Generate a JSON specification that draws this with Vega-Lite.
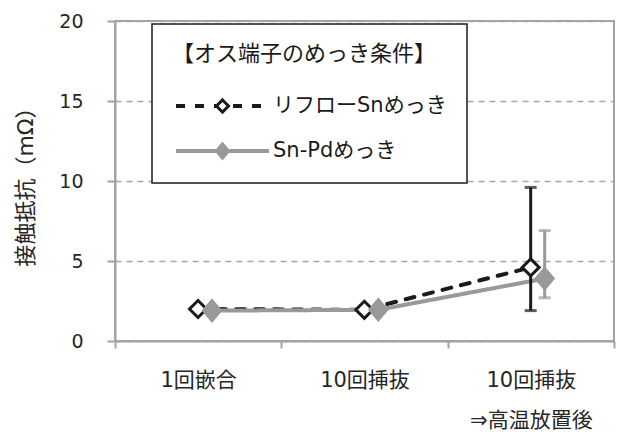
{
  "$schema": "https://vega.github.io/schema/vega-lite/v6.json",
  "width": 499,
  "height": 320,
  "autosize": "none",
  "padding": {"left": 115, "top": 21, "right": 8, "bottom": 91},
  "background": "white",
  "config": {
    "font": "DejaVu Sans, Noto Sans CJK JP",
    "view": {"stroke": "#a3a3a3", "strokeWidth": 2},
    "legend": {"strokeWidth": 1.5}
  },
  "data": {
    "values": [
      {"cond": "1回嵌合", "series": "リフローSnめっき", "r": 2.0},
      {"cond": "10回挿抜", "series": "リフローSnめっき", "r": 1.95},
      {"cond": "10回挿抜⇒高温放置後", "series": "リフローSnめっき", "r": 4.6, "lo": 1.9, "hi": 9.6},
      {"cond": "1回嵌合", "series": "Sn-Pdめっき", "r": 1.9},
      {"cond": "10回挿抜", "series": "Sn-Pdめっき", "r": 1.95},
      {"cond": "10回挿抜⇒高温放置後", "series": "Sn-Pdめっき", "r": 3.9, "lo": 2.7, "hi": 6.9}
    ]
  },
  "encoding": {
    "x": {
      "field": "cond",
      "type": "nominal",
      "sort": null,
      "scale": {"paddingInner": 0, "paddingOuter": 0},
      "axis": {
        "title": null,
        "labelAngle": 0,
        "labelFontSize": 21,
        "labelColor": "#262626",
        "labelPadding": 21,
        "labelLineHeight": 40,
        "labelOverlap": false,
        "labelLimit": 300,
        "labelExpr": "indexof(datum.label, '⇒') > 0 ? [substring(datum.label, 0, indexof(datum.label, '⇒')), substring(datum.label, indexof(datum.label, '⇒'))] : datum.label",
        "tickBand": "extent",
        "tickSize": 7,
        "tickColor": "#a3a3a3",
        "tickWidth": 2,
        "domainColor": "#a3a3a3",
        "domainWidth": 2,
        "grid": false
      }
    },
    "xOffset": {
      "field": "series",
      "type": "nominal",
      "sort": ["リフローSnめっき", "Sn-Pdめっき"],
      "scale": {"type": "point", "range": [83, 97], "padding": 0}
    },
    "y": {
      "type": "quantitative",
      "scale": {"domain": [0, 20], "nice": false},
      "axis": {
        "title": "接触抵抗（mΩ）",
        "titleFontSize": 22,
        "titleFontWeight": "normal",
        "titleColor": "#262626",
        "titlePadding": 21,
        "values": [0, 5, 10, 15, 20],
        "labelFontSize": 19,
        "labelColor": "#262626",
        "labelPadding": 24,
        "tickSize": 8,
        "tickColor": "#a3a3a3",
        "tickWidth": 2,
        "domainColor": "#a3a3a3",
        "domainWidth": 2,
        "gridColor": "#a6a6a6",
        "gridWidth": 1.5,
        "gridDash": [6, 5]
      }
    }
  },
  "layer": [
    {
      "mark": {"type": "line", "strokeWidth": 4, "strokeCap": "round"},
      "encoding": {
        "y": {"field": "r"},
        "color": {
          "field": "series",
          "type": "nominal",
          "scale": {"domain": ["リフローSnめっき", "Sn-Pdめっき"], "range": ["#1a1a1a", "#999999"]},
          "legend": {
            "orient": "none",
            "legendX": 37,
            "legendY": 3,
            "title": "【オス端子のめっき条件】",
            "titleFontSize": 22,
            "titleFontWeight": "normal",
            "titleColor": "#1a1a1a",
            "titleLimit": 500,
            "titlePadding": 28,
            "labelFontSize": 21,
            "labelColor": "#1a1a1a",
            "labelLimit": 400,
            "labelOffset": 2,
            "padding": 20,
            "fillColor": "white",
            "strokeColor": "#1a1a1a",
            "symbolType": "stroke",
            "symbolSize": 8649,
            "symbolStrokeWidth": 4,
            "symbolOffset": 2,
            "clipHeight": 24,
            "rowPadding": 21,
            "zindex": 0
          }
        },
        "strokeDash": {
          "field": "series",
          "type": "nominal",
          "scale": {"domain": ["リフローSnめっき", "Sn-Pdめっき"], "range": [[9, 10], [1, 0]]}
        }
      }
    },
    {
      "transform": [{"filter": "isValid(datum.lo)"}],
      "mark": {"type": "rule", "strokeWidth": 3},
      "encoding": {
        "y": {"field": "lo"},
        "y2": {"field": "hi"},
        "color": {"field": "series", "type": "nominal", "legend": null}
      }
    },
    {
      "transform": [{"filter": "isValid(datum.lo)"}],
      "mark": {"type": "tick", "orient": "horizontal", "size": 12, "thickness": 3},
      "encoding": {
        "y": {"field": "lo"},
        "color": {"field": "series", "type": "nominal", "legend": null}
      }
    },
    {
      "transform": [{"filter": "isValid(datum.hi)"}],
      "mark": {"type": "tick", "orient": "horizontal", "size": 12, "thickness": 3},
      "encoding": {
        "y": {"field": "hi"},
        "color": {"field": "series", "type": "nominal", "legend": null}
      }
    },
    {
      "mark": {"type": "point", "filled": false, "strokeWidth": 3, "opacity": 1, "size": 400},
      "encoding": {
        "y": {"field": "r"},
        "shape": {
          "field": "series",
          "type": "nominal",
          "sort": "descending",
          "scale": {"range": ["M0,-0.85L0.85,0L0,0.85L-0.85,0Z", "M0,-1L0.85,0L0,1L-0.85,0Z"]},
          "legend": {
            "orient": "none",
            "legendX": 37,
            "legendY": 3,
            "title": " ",
            "titleFontSize": 22,
            "titleFontWeight": "normal",
            "titlePadding": 28,
            "labelFontSize": 21,
            "labelExpr": "' '",
            "labelOffset": 2,
            "padding": 20,
            "symbolSize": 200,
            "symbolStrokeWidth": 3,
            "symbolOffset": 40,
            "clipHeight": 24,
            "rowPadding": 21,
            "zindex": 5
          }
        },
        "fill": {
          "field": "series",
          "type": "nominal",
          "sort": "descending",
          "scale": {"range": ["white", "#999999"]}
        },
        "stroke": {
          "field": "series",
          "type": "nominal",
          "sort": "descending",
          "scale": {"range": ["#1a1a1a", "#999999"]}
        }
      }
    }
  ]
}
